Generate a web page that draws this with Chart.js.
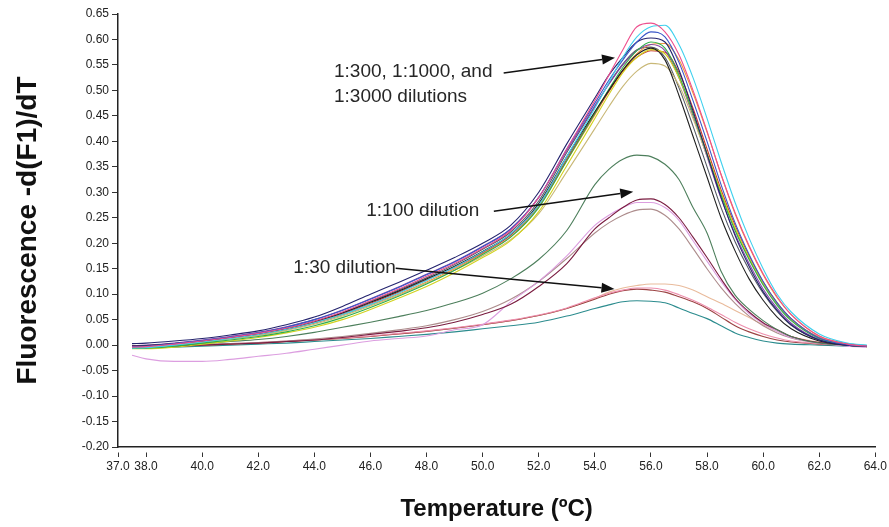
<!DOCTYPE html>
<html><head><meta charset="utf-8">
<script src="https://cdn.jsdelivr.net/npm/chart.js@4.4.0/dist/chart.umd.min.js"></script>
<style>html,body{margin:0;padding:0;background:#fff}#wrap{width:889px;height:527px}</style>
</head><body><div id="wrap"><canvas id="c" width="889" height="527"></canvas></div>
<script>
// Temperature grid (°C)
const temps = [37.5,38,39,40,41,42,43,44,45,46,47,48,49,50,51,52,53,54,54.5,55,55.5,56,56.5,57,57.5,58,58.5,59,59.5,60,60.5,61,62,63,63.7];

// 1:300, 1:1000 and 1:3000 dilutions
const hiPink   = [-0.004,-0.003,0.002,0.008,0.015,0.023,0.033,0.047,0.065,0.087,0.11,0.135,0.16,0.19,0.225,0.29,0.385,0.48,0.53,0.58,0.625,0.632,0.615,0.57,0.5,0.42,0.335,0.26,0.195,0.14,0.095,0.06,0.018,0.002,-0.002];
const hiCyan   = [-0.006,-0.005,0.0,0.006,0.013,0.021,0.031,0.044,0.06,0.08,0.102,0.127,0.153,0.183,0.218,0.275,0.37,0.465,0.515,0.565,0.605,0.625,0.628,0.59,0.525,0.445,0.36,0.28,0.21,0.15,0.1,0.065,0.022,0.004,0.0];
const hiBlue   = [-0.003,-0.002,0.003,0.009,0.016,0.024,0.035,0.05,0.068,0.09,0.113,0.138,0.163,0.193,0.228,0.29,0.385,0.475,0.52,0.56,0.595,0.615,0.605,0.555,0.48,0.4,0.315,0.24,0.178,0.125,0.083,0.052,0.014,0.001,-0.002];
const hiNavy   = [0.003,0.004,0.008,0.013,0.02,0.028,0.04,0.055,0.076,0.1,0.123,0.147,0.172,0.2,0.235,0.3,0.395,0.485,0.53,0.565,0.595,0.603,0.595,0.54,0.46,0.375,0.29,0.215,0.155,0.105,0.068,0.04,0.01,0.0,-0.002];
const hiBlack  = [-0.002,-0.001,0.003,0.008,0.015,0.022,0.032,0.046,0.063,0.084,0.106,0.13,0.155,0.184,0.218,0.278,0.37,0.458,0.5,0.54,0.57,0.583,0.56,0.49,0.41,0.33,0.25,0.185,0.13,0.088,0.055,0.032,0.008,0.0,-0.002];
const hiGreen  = [-0.006,-0.006,-0.002,0.004,0.01,0.017,0.026,0.038,0.054,0.074,0.096,0.12,0.147,0.178,0.212,0.27,0.362,0.455,0.502,0.545,0.578,0.595,0.583,0.53,0.455,0.375,0.295,0.225,0.168,0.118,0.078,0.048,0.013,0.001,-0.003];
const hiYellow = [-0.007,-0.007,-0.004,0.002,0.008,0.015,0.024,0.035,0.05,0.07,0.092,0.115,0.142,0.172,0.205,0.262,0.352,0.445,0.492,0.535,0.565,0.58,0.572,0.525,0.455,0.378,0.3,0.23,0.172,0.122,0.082,0.05,0.014,0.001,-0.003];
const hiKhaki  = [-0.005,-0.004,0.0,0.005,0.012,0.019,0.029,0.041,0.057,0.077,0.098,0.122,0.147,0.175,0.207,0.258,0.34,0.425,0.468,0.508,0.538,0.553,0.548,0.51,0.445,0.372,0.297,0.228,0.17,0.12,0.08,0.05,0.014,0.001,-0.003];
const hiPurple = [-0.001,0.0,0.004,0.01,0.017,0.025,0.036,0.05,0.069,0.091,0.114,0.139,0.164,0.194,0.228,0.29,0.382,0.47,0.512,0.55,0.578,0.59,0.578,0.525,0.45,0.37,0.288,0.218,0.16,0.11,0.072,0.043,0.011,0.0,-0.002];
const hiRed    = [-0.004,-0.003,0.001,0.007,0.014,0.021,0.031,0.044,0.061,0.082,0.104,0.128,0.153,0.182,0.216,0.275,0.365,0.455,0.498,0.538,0.565,0.578,0.575,0.535,0.465,0.385,0.305,0.235,0.175,0.124,0.083,0.052,0.015,0.002,-0.002];
const hiOrange = [-0.005,-0.004,0.0,0.006,0.013,0.02,0.03,0.043,0.059,0.079,0.1,0.124,0.15,0.18,0.213,0.272,0.362,0.452,0.498,0.54,0.572,0.59,0.592,0.56,0.495,0.418,0.335,0.258,0.193,0.138,0.093,0.06,0.018,0.003,-0.001];
const hiGray   = [-0.003,-0.002,0.002,0.008,0.015,0.022,0.033,0.047,0.064,0.086,0.108,0.132,0.158,0.188,0.222,0.283,0.378,0.468,0.513,0.552,0.58,0.585,0.565,0.505,0.43,0.35,0.27,0.203,0.148,0.102,0.066,0.039,0.01,0.0,-0.002];

// 1:100 dilution
const d100Green  = [-0.003,-0.002,0.0,0.003,0.007,0.011,0.017,0.025,0.035,0.045,0.056,0.068,0.083,0.102,0.13,0.168,0.225,0.315,0.345,0.365,0.373,0.37,0.355,0.325,0.27,0.22,0.145,0.098,0.07,0.048,0.03,0.017,0.004,0.0,-0.002];
const d100Maroon = [-0.004,-0.004,-0.002,0.0,0.002,0.004,0.007,0.01,0.015,0.021,0.027,0.034,0.045,0.06,0.08,0.115,0.16,0.228,0.25,0.27,0.285,0.287,0.276,0.25,0.212,0.172,0.13,0.092,0.065,0.044,0.03,0.017,0.005,0.0,-0.002];
const d100Violet = [-0.02,-0.027,-0.032,-0.032,-0.028,-0.022,-0.016,-0.008,0.0,0.008,0.013,0.018,0.03,0.04,0.085,0.125,0.175,0.235,0.255,0.27,0.28,0.28,0.27,0.245,0.205,0.165,0.125,0.09,0.062,0.042,0.027,0.015,0.004,-0.002,-0.004];
const d100Gray   = [-0.004,-0.003,-0.001,0.001,0.003,0.005,0.008,0.012,0.017,0.023,0.03,0.038,0.05,0.066,0.09,0.125,0.17,0.22,0.24,0.255,0.265,0.267,0.255,0.228,0.19,0.15,0.113,0.082,0.057,0.038,0.024,0.014,0.004,0.0,-0.002];

// 1:30 dilution
const d30Pink  = [-0.004,-0.003,-0.001,0.001,0.003,0.005,0.008,0.011,0.014,0.018,0.023,0.028,0.034,0.041,0.049,0.059,0.073,0.093,0.102,0.108,0.112,0.112,0.108,0.099,0.088,0.075,0.06,0.045,0.032,0.022,0.014,0.008,0.003,0.0,-0.002];
const d30Brown = [-0.005,-0.004,-0.002,0.0,0.002,0.004,0.007,0.01,0.013,0.017,0.022,0.027,0.033,0.04,0.048,0.058,0.072,0.09,0.1,0.107,0.11,0.108,0.104,0.095,0.085,0.072,0.055,0.038,0.026,0.017,0.01,0.006,0.002,0.0,-0.002];
const d30Beige = [-0.005,-0.004,-0.002,0.0,0.002,0.004,0.007,0.01,0.013,0.017,0.022,0.027,0.033,0.04,0.048,0.058,0.072,0.092,0.104,0.112,0.117,0.12,0.12,0.117,0.108,0.095,0.082,0.068,0.054,0.04,0.027,0.017,0.006,0.0,-0.002];
const d30Teal  = [-0.006,-0.006,-0.004,-0.002,0.0,0.002,0.004,0.007,0.01,0.013,0.017,0.021,0.026,0.032,0.038,0.045,0.057,0.072,0.079,0.085,0.087,0.086,0.083,0.073,0.062,0.052,0.038,0.024,0.015,0.008,0.004,0.002,0.0,-0.002,-0.003];

// Axis ticks
const xTicks = [37,38,40,42,44,46,48,50,52,54,56,58,60,62,64];
const yTicks = [-0.20,-0.15,-0.10,-0.05,0.00,0.05,0.10,0.15,0.20,0.25,0.30,0.35,0.40,0.45,0.50,0.55,0.60,0.65];

// Annotation texts and arrows (data coordinates)
const noteTexts = [
  {text:'1:300, 1:1000, and', t:44.70, v:0.536},
  {text:'1:3000 dilutions',   t:44.70, v:0.487},
  {text:'1:100 dilution',     t:45.85, v:0.263},
  {text:'1:30 dilution',      t:43.25, v:0.151}
];
const noteArrows = [
  {t0:50.75, v0:0.534, t1:54.72, v1:0.564},
  {t0:50.40, v0:0.263, t1:55.37, v1:0.301},
  {t0:46.90, v0:0.151, t1:54.70, v1:0.110}
];

const series = [
  {label:'1:300 a', values:hiPink,   color:'#ee4f8e'},
  {label:'1:300 b', values:hiCyan,   color:'#3fd0ee'},
  {label:'1:300 c', values:hiBlue,   color:'#3a56c8'},
  {label:'1:1000 a', values:hiNavy,  color:'#24246e'},
  {label:'1:1000 b', values:hiBlack, color:'#202020'},
  {label:'1:1000 c', values:hiGreen, color:'#2fae4a'},
  {label:'1:1000 d', values:hiYellow,color:'#d2d21e'},
  {label:'1:3000 a', values:hiKhaki, color:'#c9b877'},
  {label:'1:3000 b', values:hiPurple,color:'#8646a8'},
  {label:'1:3000 c', values:hiRed,   color:'#cc3434'},
  {label:'1:3000 d', values:hiOrange,color:'#f0923a'},
  {label:'1:3000 e', values:hiGray,  color:'#555a66'},
  {label:'1:100 a', values:d100Green,  color:'#4d7f5c'},
  {label:'1:100 b', values:d100Maroon, color:'#7a1c40'},
  {label:'1:100 c', values:d100Violet, color:'#dc9ee0'},
  {label:'1:100 d', values:d100Gray,   color:'#ad8c8c'},
  {label:'1:30 a', values:d30Pink,  color:'#ee8fae'},
  {label:'1:30 b', values:d30Brown, color:'#9c4444'},
  {label:'1:30 c', values:d30Beige, color:'#e9bb9c'},
  {label:'1:30 d', values:d30Teal,  color:'#2c8c8e'}
];

const annotPlugin = {
  id:'annot',
  afterDatasetsDraw(chart){
    const {ctx, scales:{x, y}} = chart;
    ctx.save();
    ctx.font = '19px Arial, "Liberation Sans", sans-serif';
    ctx.fillStyle = '#262626';
    ctx.textBaseline = 'middle';
    ctx.textAlign = 'left';
    noteTexts.forEach(n => ctx.fillText(n.text, x.getPixelForValue(n.t), y.getPixelForValue(n.v)));
    ctx.strokeStyle = '#111';
    ctx.fillStyle = '#111';
    ctx.lineWidth = 1.5;
    noteArrows.forEach(a => {
      const x0 = x.getPixelForValue(a.t0), y0 = y.getPixelForValue(a.v0);
      const x1 = x.getPixelForValue(a.t1), y1 = y.getPixelForValue(a.v1);
      const ang = Math.atan2(y1 - y0, x1 - x0);
      const hl = 13, hw = 5;
      const bx = x1 - hl * Math.cos(ang), by = y1 - hl * Math.sin(ang);
      ctx.beginPath(); ctx.moveTo(x0, y0); ctx.lineTo(bx, by); ctx.stroke();
      ctx.beginPath();
      ctx.moveTo(x1, y1);
      ctx.lineTo(bx + hw * Math.sin(ang), by - hw * Math.cos(ang));
      ctx.lineTo(bx - hw * Math.sin(ang), by + hw * Math.cos(ang));
      ctx.closePath(); ctx.fill();
    });
    ctx.restore();
  }
};

new Chart(document.getElementById('c'), {
  type:'line',
  data:{
    datasets: series.map(s => ({
      label: s.label,
      data: temps.map((t, i) => ({x:t, y:s.values[i]})),
      borderColor: s.color,
      borderWidth: 1.1,
      pointRadius: 0,
      fill: false,
      cubicInterpolationMode: 'monotone'
    }))
  },
  options:{
    responsive:false,
    animation:false,
    layout:{padding:{top:14, right:10, left:0, bottom:0}},
    plugins:{legend:{display:false}, tooltip:{enabled:false}},
    scales:{
      x:{
        type:'linear', min:37, max:64,
        afterBuildTicks: s => { s.ticks = xTicks.map(v => ({value:v})); },
        afterFit: s => { s.height = 80; },
        ticks:{callback: v => Number(v).toFixed(1), autoSkip:false, maxRotation:0, color:'#222',
               font:{family:'Arial, "Liberation Sans", sans-serif', size:12}, padding:2},
        grid:{drawOnChartArea:false, drawTicks:true, tickLength:10, tickColor:'#333', tickWidth:1,
              tickBorderDash:[5,5], tickBorderDashOffset:5},
        border:{color:'#222', width:1.5},
        title:{display:true, text:'Temperature (ºC)', color:'#111',
               font:{family:'Arial, "Liberation Sans", sans-serif', size:24, weight:'bold'},
               padding:{top:4, bottom:3}}
      },
      y:{
        min:-0.20, max:0.65,
        afterBuildTicks: s => { s.ticks = yTicks.map(v => ({value:v})); },
        afterFit: s => { s.width = 118; },
        ticks:{callback: v => Number(v).toFixed(2), color:'#222',
               font:{family:'Arial, "Liberation Sans", sans-serif', size:12}, padding:3},
        grid:{drawOnChartArea:false, drawTicks:true, tickLength:6, tickColor:'#333', tickWidth:1},
        border:{color:'#222', width:1.5},
        title:{display:true, text:'Fluorescence -d(F1)/dT', color:'#111',
               font:{family:'Arial, "Liberation Sans", sans-serif', size:28, weight:'bold'},
               padding:{top:11, bottom:4}}
      }
    }
  },
  plugins:[annotPlugin]
});
</script>
</body></html>
